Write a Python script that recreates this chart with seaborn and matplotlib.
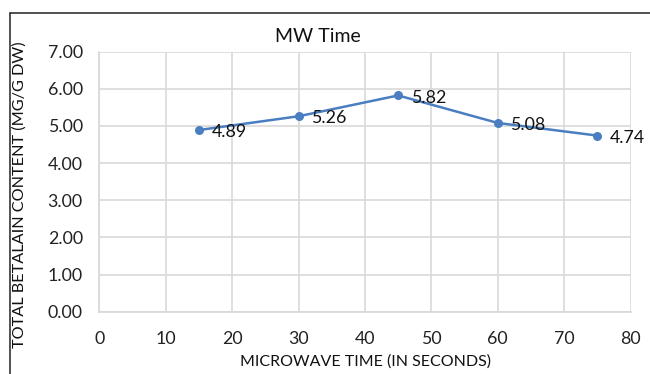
import matplotlib
matplotlib.use("Agg")
import matplotlib.pyplot as plt
import seaborn as sns
import pandas as pd
from matplotlib.lines import Line2D

times = [15, 30, 45, 60, 75]
betalain = [4.89, 5.26, 5.82, 5.08, 4.74]
title = "MW Time"
xlabel = "MICROWAVE TIME (IN SECONDS)"
ylabel = "TOTAL BETALAIN CONTENT (MG/G DW)"
xticks = [0, 10, 20, 30, 40, 50, 60, 70, 80]
yticks = [0, 1, 2, 3, 4, 5, 6, 7]

sns.set_theme(style="white")
plt.rcParams['font.family'] = ['Lato', 'DejaVu Sans']

df = pd.DataFrame({"time": times, "val": betalain})

fig = plt.figure(figsize=(6.5, 3.74), dpi=100)
ax = fig.add_axes([0.153, 0.1666, 0.817, 0.6954])
color = "#4A7EC0"
sns.lineplot(data=df, x="time", y="val", ax=ax, color=color, marker="o",
             markersize=6.5, markeredgewidth=0, linewidth=1.8)

ax.set_xlim(0, 80)
ax.set_ylim(0, 7)
ax.set_xticks(xticks)
ax.set_yticks(yticks)
ax.set_yticklabels([f"{v:.2f}" for v in yticks])
ax.tick_params(axis="both", labelsize=12.8, length=0, colors="#222222")
ax.tick_params(axis="y", pad=12)
ax.tick_params(axis="x", pad=14)
ax.grid(True, color="#D9D9D9", linewidth=1.2)
for s in ax.spines.values():
    s.set_visible(False)
ax.spines['bottom'].set_visible(True)
ax.spines['bottom'].set_color("#D9D9D9")
ax.spines['left'].set_visible(True)
ax.spines['left'].set_color("#D9D9D9")
ax.set_xlabel("")
ax.set_ylabel("")

for x, y in zip(times, betalain):
    ax.annotate(f"{y:.2f}", (x, y), xytext=(9, -1.5), textcoords="offset points",
                ha="left", va="center", fontsize=12.8, color="#111111")

fig.text(318 / 650, 1 - 37 / 374, title, ha="center", va="center", fontsize=14, color="#111111")
fig.text(365 / 650, 1 - 362 / 374, xlabel, ha="center", va="center", fontsize=11.5, color="#111111")
fig.text(20 / 650, 1 - 195 / 374, ylabel, ha="center", va="center", rotation=90, fontsize=11.7,
         color="#111111")

fig.add_artist(Line2D([10 / 650, 10 / 650], [0, 1 - 13 / 374], transform=fig.transFigure,
                      color="#333333", linewidth=1.2))
fig.add_artist(Line2D([10 / 650, 1], [1 - 13 / 374, 1 - 13 / 374], transform=fig.transFigure,
                      color="#333333", linewidth=1.2))

fig.savefig("out.png", dpi=100)
